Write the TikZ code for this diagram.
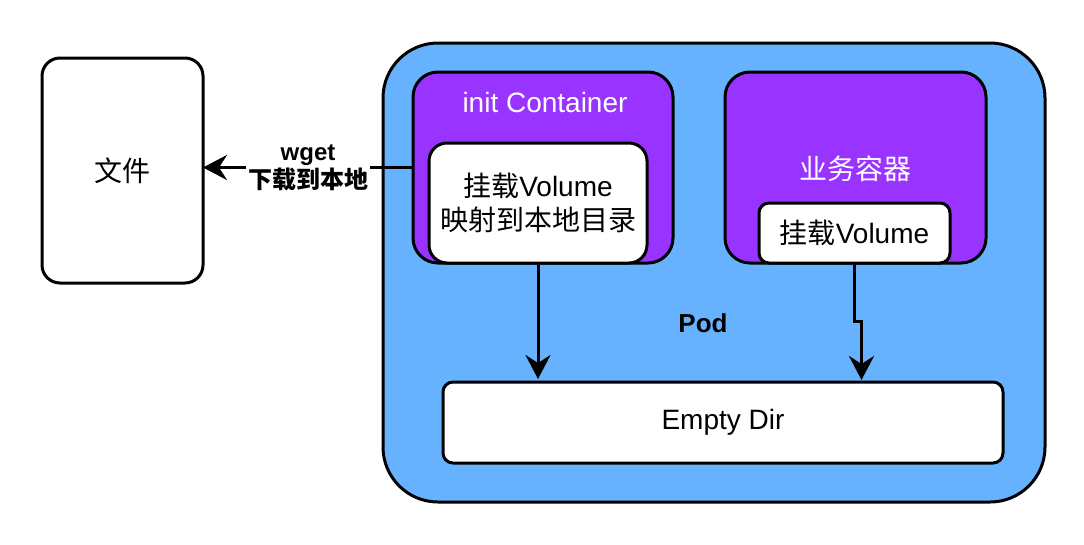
\documentclass[tikz,border=0pt]{standalone}
\usepackage{fontspec}
\setmainfont{Liberation Sans}
\newfontfamily\cjk{Noto Sans CJK SC}
\usetikzlibrary{arrows.meta,calc}
\definecolor{podblue}{HTML}{66B2FF}
\definecolor{ctrpurple}{HTML}{9933FF}
\begin{document}
\begin{tikzpicture}[x=1pt,y=-1pt,
  box/.style={draw=black,line width=3pt,rounded corners=#1,inner sep=0pt,outer sep=0pt},
  box/.default=18pt,
  txt/.style={font=\fontsize{28}{34}\selectfont},
  arr/.style={line width=3pt,-{Stealth[length=24pt,width=25pt,inset=8pt]}}
]
\useasboundingbox (0,0) rectangle (1084,544);
% file
\node[box=18pt,fill=white,minimum width=161pt,minimum height=225pt,txt] (file) at (122.5,170.5) {\cjk 文件};
% pod
\node[box=55pt,fill=podblue,minimum width=662pt,minimum height=459pt] (pod) at (714,272.5) {};
\node[font=\fontsize{26}{32}\selectfont\bfseries] (podlabel) at (703,323) {Pod};
% init container
\node[box=25pt,fill=ctrpurple,minimum width=260pt,minimum height=191pt] (init) at (543,167.5) {};
\node[txt,text=white] (inittitle) at (545,102) {init Container};
\node[box=18pt,fill=white,minimum width=218pt,minimum height=120pt,txt,align=center] (vol1) at (538,203) {{\cjk 挂载}Volume\\{\cjk 映射到本地目录}};
% business container
\node[box=25pt,fill=ctrpurple,minimum width=261pt,minimum height=191pt] (biz) at (855.5,167.5) {};
\node[txt,text=white] (biztitle) at (855,169) {\cjk 业务容器};
\node[box=10pt,fill=white,minimum width=191pt,minimum height=60pt,txt] (vol2) at (854.5,233) {{\cjk 挂载}Volume};
% empty dir
\node[box=10pt,fill=white,minimum width=560pt,minimum height=81pt,txt] (empty) at (723,422.5) {Empty Dir};
% connectors
\draw[arr] (init.west) -- (file.east |- init.west)
  node[midway,fill=white,inner sep=2pt,align=center,font=\fontsize{24}{28}\selectfont\bfseries] (wget) {wget\\{\cjk 下载到本地}};
\draw[arr] (vol1.south) -- ($(vol1.south |- empty.north)+(0,-3)$);
\draw[arr] (vol2.south) -- ++(0,58) -| ($(vol2.south |- empty.north)+(7,-2)$);
\end{tikzpicture}
\end{document}
